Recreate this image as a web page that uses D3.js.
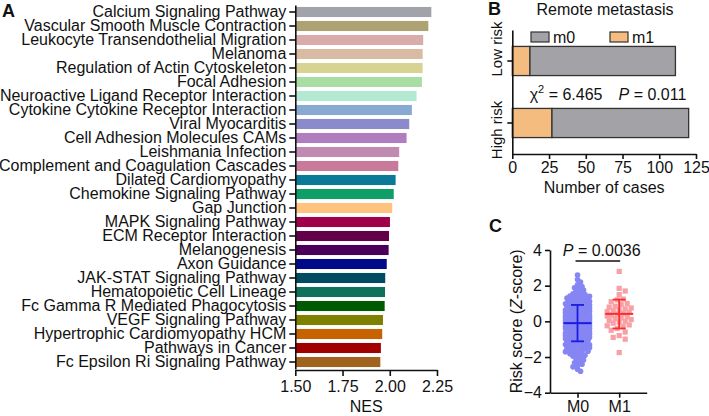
<!DOCTYPE html>
<html><head><meta charset="utf-8">
<script src="https://cdn.jsdelivr.net/npm/d3@7"></script>
<style>
body{margin:0;background:#fff;}
svg{display:block;font-family:Arial,"Liberation Sans",sans-serif;}
text{fill:#111;}
</style></head><body>
<svg id="c" width="709" height="416"></svg>
<script>
// ---------- Panel A data ----------
const pathways = ["Calcium Signaling Pathway","Vascular Smooth Muscle Contraction","Leukocyte Transendothelial Migration","Melanoma","Regulation of Actin Cytoskeleton","Focal Adhesion","Neuroactive Ligand Receptor Interaction","Cytokine Cytokine Receptor Interaction","Viral Myocarditis","Cell Adhesion Molecules CAMs","Leishmania Infection","Complement and Coagulation Cascades","Dilated Cardiomyopathy","Chemokine Signaling Pathway","Gap Junction","MAPK Signaling Pathway","ECM Receptor Interaction","Melanogenesis","Axon Guidance","JAK-STAT Signaling Pathway","Hematopoietic Cell Lineage","Fc Gamma R Mediated Phagocytosis","VEGF Signaling Pathway","Hypertrophic Cardiomyopathy HCM","Pathways in Cancer","Fc Epsilon Ri Signaling Pathway"];
const nes = [2.22,2.204,2.177,2.174,2.174,2.170,2.142,2.117,2.103,2.089,2.050,2.045,2.031,2.021,2.013,2.001,1.996,1.994,1.984,1.976,1.975,1.973,1.964,1.960,1.953,1.950];
const pathColors = ["#a2a2aa","#aca274","#d9abab","#d9bba3","#d8d293","#a8dda4","#b2e9d3","#88a9d2","#8a8acc","#b07dc1","#c08ab3","#c87a9a","#0b7a98","#0f9e68","#ffc27f","#a0004a","#620049","#4a0058","#00098a","#004b62","#0f7159","#005a00","#808000","#c76200","#a10000","#a0631f"];
const nesTicks = [1.50,1.75,2.00,2.25];

// ---------- Panel B data ----------
const riskGroups = ["Low risk","High risk"];
const m1Counts = [12, 27];
const m0Counts = [99, 93];
const casesTicks = [0,25,50,75,100,125];

// ---------- Panel C data ----------
const groupsC = ["M0","M1"];
const scoreM0 = [2.6,2.35,2.2,2.05,1.95,1.88,1.8,1.75,1.68,1.6,1.55,1.5,1.47,1.42,1.4,1.36,1.32,1.3,1.26,1.22,1.2,1.16,1.12,1.1,1.08,1.05,1.03,1.0,
0.98,0.96,0.94,0.92,0.9,0.88,0.86,0.84,0.82,0.8,0.78,0.76,0.74,0.72,0.7,0.68,0.66,0.64,0.62,0.6,0.58,0.56,0.55,0.54,0.52,0.5,
0.49,0.48,0.46,0.45,0.44,0.42,0.41,0.4,0.38,0.37,0.36,0.34,0.33,0.32,0.3,0.29,0.28,0.26,0.25,0.24,0.22,0.21,0.2,0.18,0.17,0.16,0.14,0.12,0.1,0.09,0.07,0.05,0.03,0.01,
-0.01,-0.02,-0.04,-0.05,-0.07,-0.08,-0.1,-0.11,-0.12,-0.14,-0.15,-0.17,-0.18,-0.2,-0.21,-0.22,-0.24,-0.25,-0.27,-0.28,-0.3,-0.31,-0.33,-0.34,-0.36,-0.37,-0.39,-0.4,-0.42,-0.43,-0.45,-0.46,-0.48,-0.49,
-0.51,-0.53,-0.54,-0.56,-0.58,-0.6,-0.61,-0.63,-0.65,-0.66,-0.68,-0.7,-0.72,-0.73,-0.75,-0.77,-0.79,-0.8,-0.82,-0.84,-0.86,-0.88,-0.9,-0.91,-0.93,-0.95,-0.97,-0.99,
-1.02,-1.04,-1.07,-1.09,-1.12,-1.14,-1.17,-1.19,-1.22,-1.24,-1.27,-1.3,-1.32,-1.35,-1.37,-1.4,-1.42,-1.44,-1.46,-1.48,
-1.52,-1.56,-1.6,-1.63,-1.67,-1.7,-1.74,-1.78,-1.82,-1.86,-1.9,-1.95,
-2.03,-2.1,-2.17,-2.25,-2.32,-2.4,-2.46,-2.55,-2.68,-2.8];
const scoreM1 = [2.8,1.85,1.7,1.5,1.25,1.2,1.1,1.0,0.95,0.85,0.8,0.75,0.7,0.65,0.6,0.55,0.5,0.45,0.4,0.35,0.3,0.25,0.2,0.15,0.1,0.05,0.0,-0.05,-0.1,-0.2,-0.25,-0.3,-0.4,-0.5,-0.6,-0.8,-0.9,-1.0,-1.75];
const meanC = [-0.1, 0.42];
const sdUpperC = [0.92, 1.22];
const sdLowerC = [-1.12, -0.4];
const scoreTicks = [4,2,0,-2,-4];

const svg = d3.select("#c");
const FS = "16px";
const fmt2 = d3.format(".2f");
const minus = v => String(v).replace("-", "\u2212");

// ================= Panel A =================
const gA = svg.append("g");
const xA = d3.scaleLinear().domain([1.5, 2.25]).range([295.3, 437]);
const yA = d3.scaleBand().domain(pathways).range([5, 369]).paddingInner(0.28).paddingOuter(0.14);

gA.selectAll("rect.bar").data(pathways).join("rect")
  .attr("x", xA(1.5)).attr("y", d => yA(d))
  .attr("width", (d,i) => xA(nes[i]) - xA(1.5))
  .attr("height", yA.bandwidth())
  .attr("fill", (d,i) => pathColors[i]);

const axLA = gA.append("g").attr("transform", `translate(${xA(1.5)},0)`)
  .call(d3.axisLeft(yA).tickSize(6).tickSizeOuter(0).tickPadding(3));
axLA.selectAll("text").style("font-size", FS).attr("fill", "#111");
axLA.selectAll("line,path").attr("stroke", "#111").attr("stroke-width", 1.6);

const axBA = gA.append("g").attr("transform", "translate(0,370)")
  .call(d3.axisBottom(xA).tickValues(nesTicks).tickFormat(fmt2).tickSize(6).tickSizeOuter(0).tickPadding(5));
axBA.selectAll("text").style("font-size", FS).attr("fill", "#111");
axBA.selectAll("line,path").attr("stroke", "#111").attr("stroke-width", 1.6);

gA.append("text").attr("x", (xA(1.5)+xA(2.25))/2).attr("y", 412).attr("text-anchor", "middle").style("font-size", FS).text("NES");
gA.append("text").attr("x", 2).attr("y", 17).style("font-size", "18px").style("font-weight", "bold").text("A");

// ================= Panel B =================
const gB = svg.append("g");
const xB = d3.scaleLinear().domain([0, 125]).range([512.3, 696]);
const yB = d3.scaleBand().domain(riskGroups).range([30, 154]).paddingInner(0.53).paddingOuter(0.265);

gB.append("text").attr("x", 488).attr("y", 15).style("font-size", "18px").style("font-weight", "bold").text("B");
gB.append("text").attr("x", 605).attr("y", 15).attr("text-anchor", "middle").style("font-size", FS).text("Remote metastasis");

riskGroups.forEach((g, i) => {
  gB.append("rect").attr("x", xB(0)).attr("y", yB(g)).attr("width", xB(m1Counts[i]) - xB(0)).attr("height", yB.bandwidth())
    .attr("fill", "#f5bc7f").attr("stroke", "#333").attr("stroke-width", 1.3);
  gB.append("rect").attr("x", xB(m1Counts[i])).attr("y", yB(g)).attr("width", xB(m1Counts[i] + m0Counts[i]) - xB(m1Counts[i])).attr("height", yB.bandwidth())
    .attr("fill", "#a3a3a7").attr("stroke", "#333").attr("stroke-width", 1.3);
});

const axLB = gB.append("g").attr("transform", `translate(${xB(0)},0)`)
  .call(d3.axisLeft(yB).tickSize(5).tickSizeOuter(0).tickFormat(""));
axLB.selectAll("line,path").attr("stroke", "#111").attr("stroke-width", 1.6);
const labShift = [-12, 7];
riskGroups.forEach((g, i) => {
  gB.append("text").attr("transform", `translate(502,${yB(g) + yB.bandwidth()/2 + labShift[i]}) rotate(-90)`)
    .attr("text-anchor", "middle").style("font-size", "15px").text(g);
});

const axBB = gB.append("g").attr("transform", "translate(0,154)")
  .call(d3.axisBottom(xB).tickValues(casesTicks).tickSize(5).tickSizeOuter(0).tickPadding(3));
axBB.selectAll("text").style("font-size", FS).attr("fill", "#111");
axBB.selectAll("line,path").attr("stroke", "#111").attr("stroke-width", 1.6);
gB.append("text").attr("x", xB(62.5)).attr("y", 193).attr("text-anchor", "middle").style("font-size", FS).text("Number of cases");

const legB = [{lab:"m0", col:"#a3a3a7", x:531}, {lab:"m1", col:"#f5bc7f", x:610}];
legB.forEach(l => {
  gB.append("rect").attr("x", l.x).attr("y", 32).attr("width", 18).attr("height", 10).attr("fill", l.col).attr("stroke", "#333").attr("stroke-width", 1.2);
  gB.append("text").attr("x", l.x + 22).attr("y", 43).style("font-size", FS).text(l.lab);
});

const chi = gB.append("text").attr("x", 608).attr("y", 100).attr("text-anchor", "middle").style("font-size", FS);
chi.append("tspan").text("\u03C7");
chi.append("tspan").attr("dy", -7).style("font-size", "11px").text("2");
chi.append("tspan").attr("dy", 7).text(" = 6.465\u2002\u2002");
chi.append("tspan").style("font-style", "italic").text("P");
chi.append("tspan").text(" = 0.011");

// ================= Panel C =================
const gC = svg.append("g");
const yC = d3.scaleLinear().domain([-4, 4]).range([392.7, 250]);
const xC = d3.scalePoint().domain(groupsC).range([550, 646.7]).padding(0.66);

gC.append("text").attr("x", 489).attr("y", 232).style("font-size", "18px").style("font-weight", "bold").text("C");

// beeswarm layout
function swarm(vals, cx, minD, step, maxW) {
  const sorted = vals.slice().sort((a,b) => b - a);
  const placed = [];
  return sorted.map(v => {
    const y = yC(v);
    let best = 0, bestScore = -Infinity, found = false;
    for (let k = 0; k * step <= maxW && !found; k++) {
      const offs = k === 0 ? [0] : [k * step, -k * step];
      for (const o of offs) {
        let md = Infinity;
        for (const p of placed) {
          const d = Math.hypot(p.x - (cx + o), p.y - y);
          if (d < md) md = d;
        }
        if (md >= minD) { best = o; found = true; break; }
        if (md > bestScore) { bestScore = md; best = o; }
      }
    }
    const pt = {x: cx + best, y: y, v: v};
    placed.push(pt);
    return pt;
  });
}

const ptsM0 = swarm(scoreM0, xC("M0"), 3.6, 1.5, 13);
gC.selectAll("circle.m0").data(ptsM0).join("circle")
  .attr("cx", d => d.x).attr("cy", d => d.y).attr("r", 2.8)
  .attr("fill", "#8585f3");

const ptsM1 = swarm(scoreM1, xC("M1"), 5.5, 2, 13);
gC.selectAll("rect.m1").data(ptsM1).join("rect")
  .attr("x", d => d.x - 2.6).attr("y", d => d.y - 2.6).attr("width", 5.2).attr("height", 5.2)
  .attr("fill", "#f7a0a6");

const lineCols = ["#1c1ce0", "#ff2a2a"];
groupsC.forEach((g, i) => {
  const cx = xC(g);
  const c = lineCols[i];
  gC.append("line").attr("x1", cx - 14).attr("x2", cx + 14).attr("y1", yC(meanC[i])).attr("y2", yC(meanC[i])).attr("stroke", c).attr("stroke-width", 2);
  gC.append("line").attr("x1", cx).attr("x2", cx).attr("y1", yC(sdUpperC[i])).attr("y2", yC(sdLowerC[i])).attr("stroke", c).attr("stroke-width", 1.8);
  [sdUpperC[i], sdLowerC[i]].forEach(v => {
    gC.append("line").attr("x1", cx - 6.5).attr("x2", cx + 6.5).attr("y1", yC(v)).attr("y2", yC(v)).attr("stroke", c).attr("stroke-width", 1.8);
  });
});

const axLC = gC.append("g").attr("transform", "translate(550,0)")
  .call(d3.axisLeft(yC).tickValues(scoreTicks).tickFormat(minus).tickSize(5).tickSizeOuter(0).tickPadding(3));
axLC.selectAll("text").style("font-size", FS).attr("fill", "#111");
axLC.selectAll("line,path").attr("stroke", "#111").attr("stroke-width", 1.6);

const axBC = gC.append("g").attr("transform", `translate(0,${yC(-4)})`)
  .call(d3.axisBottom(xC).tickSize(5).tickSizeOuter(0).tickPadding(3));
axBC.selectAll("text").style("font-size", FS).attr("fill", "#111");
axBC.selectAll("line,path").attr("stroke", "#111").attr("stroke-width", 1.6);

const ylab = gC.append("text").attr("transform", `translate(522,${yC(0)}) rotate(-90)`).attr("text-anchor", "middle").style("font-size", FS);
ylab.append("tspan").text("Risk score (");
ylab.append("tspan").style("font-style", "italic").text("Z");
ylab.append("tspan").text("-score)");

const pt = gC.append("text").attr("x", 601.7).attr("y", 256).attr("text-anchor", "middle").style("font-size", FS);
pt.append("tspan").style("font-style", "italic").text("P");
pt.append("tspan").text(" = 0.0036");
gC.append("line").attr("x1", xC("M0") - 2).attr("x2", xC("M1") + 1).attr("y1", 261).attr("y2", 261).attr("stroke", "#111").attr("stroke-width", 1.4);
</script>
</body></html>
